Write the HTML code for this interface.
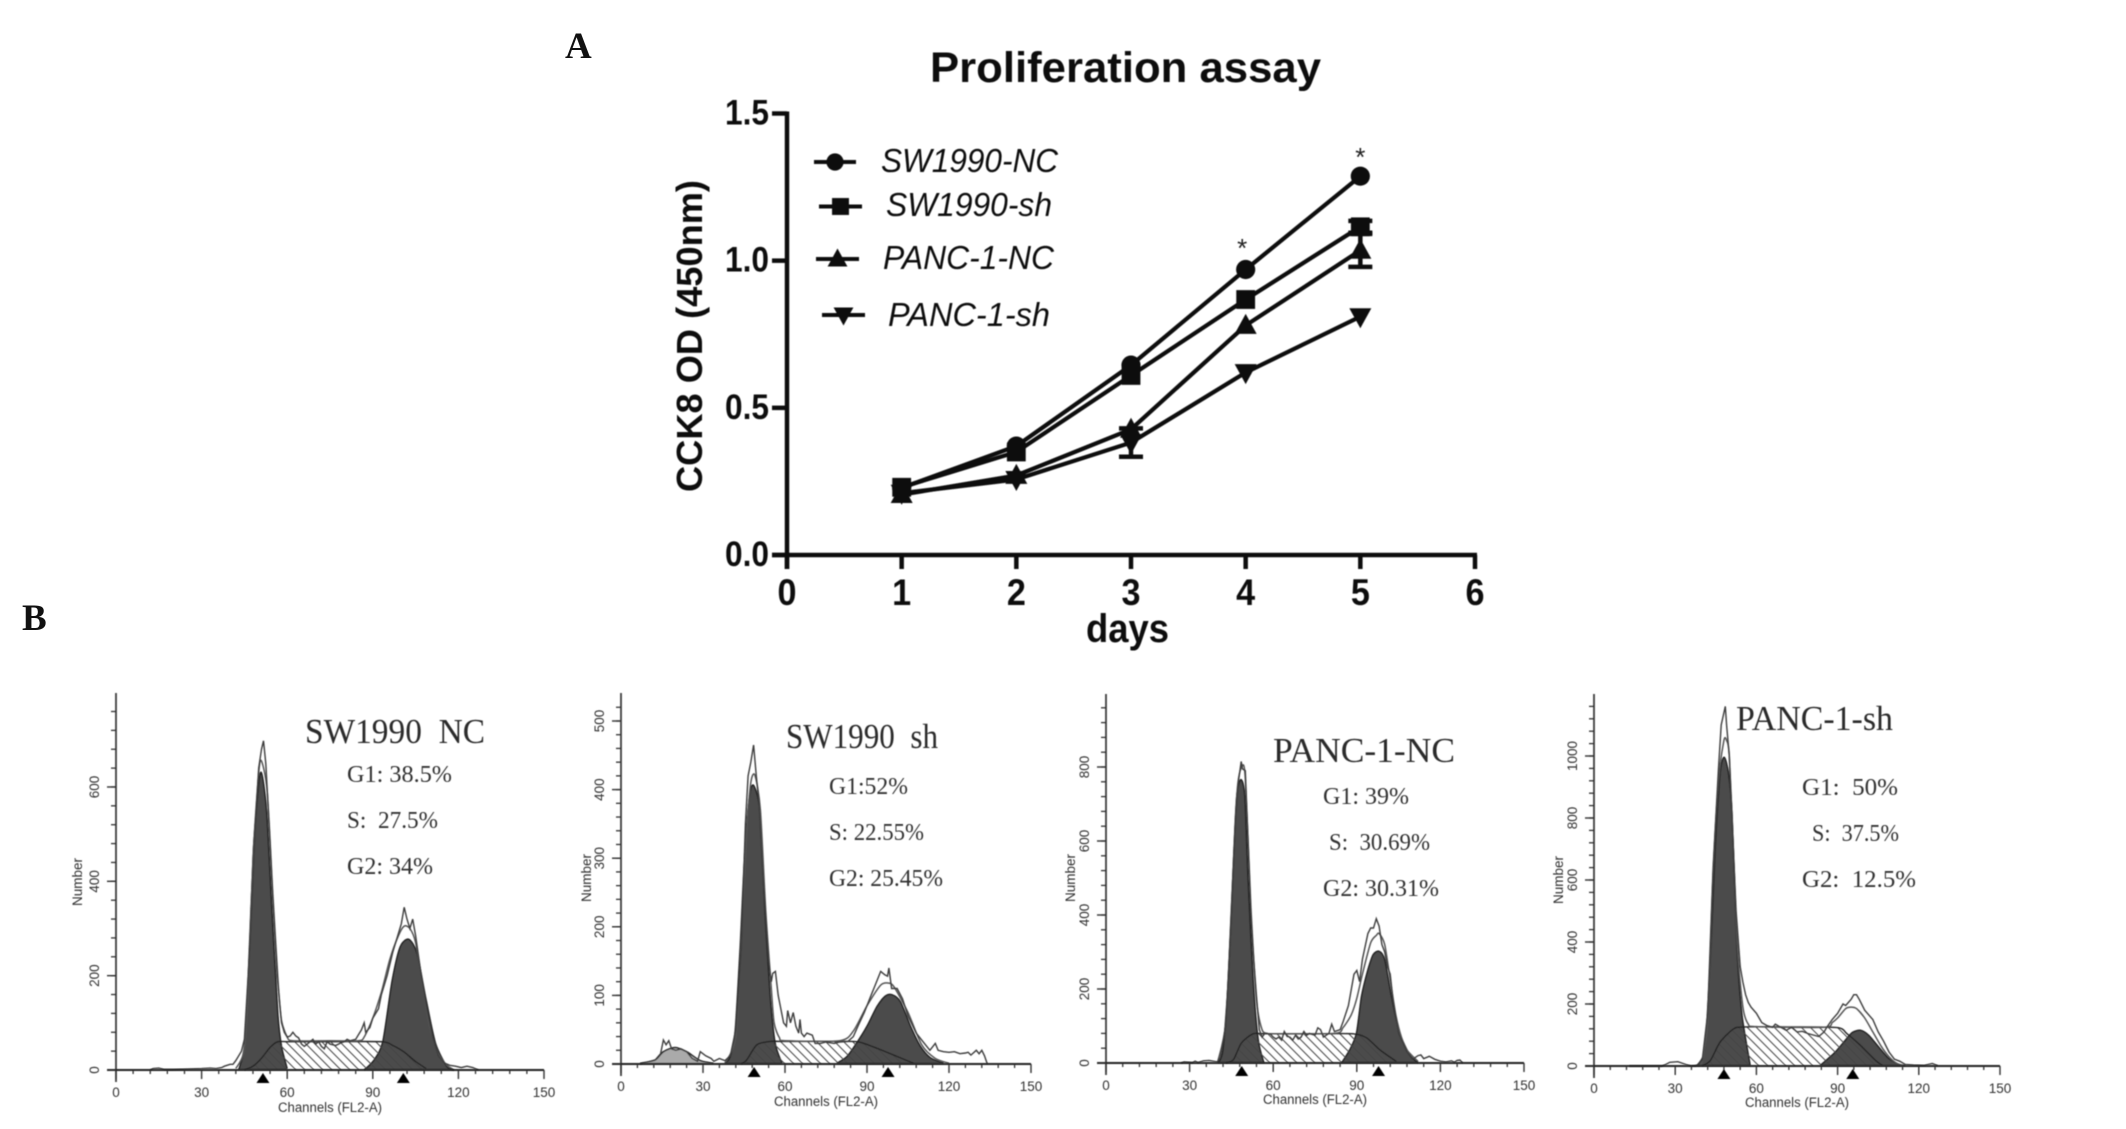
<!DOCTYPE html>
<html lang="en">
<head>
<meta charset="utf-8">
<title>Proliferation assay and cell cycle histograms</title>
<style>
html,body{margin:0;padding:0;background:#fff;}
#figure{display:block;width:2126px;height:1129px;background:#fff;}
.sans{font-family:"Liberation Sans",sans-serif;}
.serif{font-family:"Liberation Serif","Noto Serif CJK SC",serif;}
.ann{font-family:"Liberation Serif","Noto Serif CJK SC",serif;fill:#333;font-size:24px;}
.ttl{font-family:"Liberation Serif",serif;fill:#2a2a2a;font-size:35px;}
.leg{font-family:"Liberation Sans",sans-serif;font-style:italic;font-size:33px;fill:#111;}
</style>
</head>
<body>
<svg id="figure" xmlns="http://www.w3.org/2000/svg" width="2126" height="1129" viewBox="0 0 2126 1129">
  <defs>
    <pattern id="hatch" patternUnits="userSpaceOnUse" width="9" height="9">
      <path d="M-1,-1 L10,10 M-10,-1 L1,10 M8,-1 L19,10" stroke="#444" stroke-width="1" fill="none"/>
    </pattern>
    <filter id="soft" x="-5%" y="-5%" width="110%" height="110%"><feGaussianBlur stdDeviation="0.45"/></filter>
  </defs>

  <text class="serif" x="565" y="58" font-size="37" font-weight="bold" fill="#111">A</text>
  <text class="serif" x="22" y="630" font-size="37" font-weight="bold" fill="#111">B</text>

  <g id="chartA" filter="url(#soft)">
    <text class="sans" x="930" y="82" font-size="43" font-weight="bold" fill="#111" textLength="391" lengthAdjust="spacingAndGlyphs">Proliferation assay</text>
    <text class="sans" transform="translate(702,492) rotate(-90)" font-size="36" font-weight="bold" fill="#111" textLength="312" lengthAdjust="spacingAndGlyphs">CCK8 OD (450nm)</text>
    <text class="sans" x="1086" y="642" font-size="40" font-weight="bold" fill="#111" textLength="83" lengthAdjust="spacingAndGlyphs">days</text>
    <text class="leg" x="881" y="172" textLength="177" lengthAdjust="spacingAndGlyphs">SW1990-NC</text>
    <text class="leg" x="886" y="216" textLength="166" lengthAdjust="spacingAndGlyphs">SW1990-sh</text>
    <text class="leg" x="883" y="269" textLength="171" lengthAdjust="spacingAndGlyphs">PANC-1-NC</text>
    <text class="leg" x="888" y="326" textLength="162" lengthAdjust="spacingAndGlyphs">PANC-1-sh</text>
  </g>

  <g id="hist1"></g>
  <g id="hist2"></g>
  <g id="hist3"></g>
  <g id="hist4"></g>

  <g filter="url(#soft)">
    <text class="ttl" x="305" y="743" textLength="180" lengthAdjust="spacingAndGlyphs" xml:space="preserve">SW1990  NC</text>
    <text class="ann" x="347" y="782" textLength="105" lengthAdjust="spacingAndGlyphs">G1: 38.5%</text>
    <text class="ann" x="347" y="828" textLength="91" lengthAdjust="spacingAndGlyphs" xml:space="preserve">S:  27.5%</text>
    <text class="ann" x="347" y="874" textLength="86" lengthAdjust="spacingAndGlyphs">G2: 34%</text>

    <text class="ttl" x="786" y="748" textLength="152" lengthAdjust="spacingAndGlyphs" xml:space="preserve">SW1990  sh</text>
    <text class="ann" x="829" y="794" textLength="79" lengthAdjust="spacingAndGlyphs">G1:52%</text>
    <text class="ann" x="829" y="840" textLength="95" lengthAdjust="spacingAndGlyphs">S: 22.55%</text>
    <text class="ann" x="829" y="886" textLength="114" lengthAdjust="spacingAndGlyphs">G2: 25.45%</text>

    <text class="ttl" x="1273" y="762" textLength="182" lengthAdjust="spacingAndGlyphs">PANC-1-NC</text>
    <text class="ann" x="1323" y="804" textLength="86" lengthAdjust="spacingAndGlyphs">G1: 39%</text>
    <text class="ann" x="1329" y="850" textLength="101" lengthAdjust="spacingAndGlyphs" xml:space="preserve">S:  30.69%</text>
    <text class="ann" x="1323" y="896" textLength="116" lengthAdjust="spacingAndGlyphs">G2: 30.31%</text>

    <text class="ttl" x="1736" y="730" textLength="157" lengthAdjust="spacingAndGlyphs">PANC-1-sh</text>
    <text class="ann" x="1802" y="795" textLength="96" lengthAdjust="spacingAndGlyphs" xml:space="preserve">G1:  50%</text>
    <text class="ann" x="1812" y="841" textLength="87" lengthAdjust="spacingAndGlyphs" xml:space="preserve">S:  37.5%</text>
    <text class="ann" x="1802" y="887" textLength="114" lengthAdjust="spacingAndGlyphs" xml:space="preserve">G2:  12.5%</text>
  </g>
</svg>

<script>
// ---------- Chart A data ----------
const days = [1, 2, 3, 4, 5];
const xTickLabelsA = [0, 1, 2, 3, 4, 5, 6];
const yTickLabelsA = ["0.0", "0.5", "1.0", "1.5"];
const yTickValuesA = [0, 0.5, 1.0, 1.5];
const sw1990Nc = [0.228, 0.37, 0.645, 0.97, 1.287];
const sw1990Sh = [0.23, 0.35, 0.61, 0.868, 1.115];
const panc1Nc = [0.205, 0.27, 0.427, 0.78, 1.035];
const panc1Sh = [0.21, 0.257, 0.382, 0.62, 0.81];
const sw1990NcErr = [0, 0, 0, 0, 0];
const sw1990ShErr = [0, 0, 0, 0, 0.02];
const panc1NcErr = [0, 0, 0, 0, 0.056];
const panc1ShErr = [0, 0, 0.048, 0, 0];
const starDays = [3.97, 5];
const starValues = [1.06, 1.37];

// ---------- Histogram data (channel, count) ----------
const p1G1Ch = [43,45,46.3,48.2,50.2,51.2,52.8,54.7,56.7,58,60];
const p1G1N  = [0,50,190,470,615,625,545,330,120,50,3];
const p1SCh  = [45,48,51,54,56.7,60,75,93,97,101,105,108.7];
const p1SN   = [0,8,25,48,60,60,60,60,52,38,18,3];
const p1G2Ch = [87,90.3,93.5,96.8,99.6,102.6,105.5,108.7,112,116,118.5];
const p1G2N  = [0,20,60,190,261,277,247,148,56,7,0];
const p1FitCh = [42,45,46.5,48,50,51,53,55,57,58,60,62,75,85,87,90,93,96,99,101,103,105,108,110,113,116,118];
const p1FitN  = [3,45,200,450,630,655,590,370,170,105,70,62,62,62,70,110,165,235,285,305,300,270,160,90,35,10,2];
const p1RawCh = [12,13,15,17,20,25,30,33,35,37,38,40,41,42,43,44,45,47,49,50,51,51.7,52.5,54,55,56.5,58,59,60,61,62,63,64,65,66,67,69,70,71,72,73,74,75,77,79,80,81,82,84,85,86,87,87.5,89,90,91,92,93,95,97,99,100,101,102,103,104,105,107,109,111,113,115,117,119,121,123,125,127];
const p1RawN  = [0,3,4,1,1,2,3,4,3,5,8,12,12,20,30,40,65,270,540,640,680,698,650,480,360,200,100,80,70,72,80,72,68,55,50,55,65,55,60,50,45,60,55,52,58,60,65,62,65,75,85,100,80,90,110,120,130,160,200,250,290,310,345,320,300,320,285,200,130,70,30,15,10,8,5,8,5,0];

const p2HumpCh = [7,12.5,15.5,19.8,24,29,33.8];
const p2HumpN  = [1,6,18,24,18,5,1];
const p2G1Ch = [38,40,41.8,43.6,45.4,47.2,48.7,50.9,52.7,54.6,56.4,58.9];
const p2G1N  = [1,11,50,171,317,395,405,365,220,98,30,1];
const p2SCh  = [44,46,49.7,54.6,58.2,70,85,88.9,94.9,101,107];
const p2SN   = [0,6,28,33,33,33,33,30,21,11,1];
const p2G2Ch = [79,82.7,86.3,90,93.7,96.7,99.1,102.2,105.9,109.5,113.2,118];
const p2G2N  = [1,11,31,55,84,99,101,91,55,26,9,1];
const p2FitCh = [38,42,44,46,47.5,49,51,53,55,56,58,60,80,85,90,95,98,100,105,110,115,120];
const p2FitN  = [1,40,180,340,410,421,370,220,110,60,38,34,34,48,85,115,118,112,75,28,8,1];
const p2RawCh = [7,12.5,14.5,15.5,16.5,17.5,18.5,20,22,24,26,28,29,31,33,34,36,38,40,42,44,45.5,46.5,47.5,48.5,49.5,50.5,52,54,55,55.5,56.5,57.5,58.5,59.5,60.5,61,62,63,64,65,65.5,66,67,68,70,71,73,75,78,80,83,85,87,89,91,93,95,96.5,97.5,98,99,101,103,105,108,111,113,115,116,118,120,122,124,126,127,128,130,131,132,133,134];
const p2RawN  = [0,6,15,35,28,34,22,20,22,18,8,4,18,12,8,4,8,5,12,50,170,350,420,440,465,420,380,270,150,120,132,135,100,80,60,55,78,60,75,55,45,65,45,40,45,42,30,30,32,30,32,33,40,58,75,95,115,135,130,128,140,110,110,95,70,45,30,20,30,20,18,17,18,15,16,17,13,20,15,20,12,0];

const p3G1Ch = [40.3,42,43.9,45.7,46.9,48.4,49.8,51,52.8,54.6,56.7];
const p3G1N  = [0,36,225,540,720,766,720,495,225,63,0];
const p3SCh  = [43,45.7,48.6,52.8,57.6,75,88.7,93.5,98.2,104.2];
const p3SN   = [0,9,54,79,79,79,79,68,36,4];
const p3G2Ch = [84.5,87.5,89.9,91.7,94,95.9,98,100,102.4,105.4,109,112];
const p3G2N  = [0,36,81,180,252,293,302,279,180,81,22,0];
const p3FitCh = [40,43,45,47,48.7,50,52,54,56,58,60,82,85,88,90,92,95,97,98,100,102,104,106,108,112];
const p3FitN  = [1,110,420,730,800,770,420,170,90,80,79,80,95,130,175,240,325,345,350,320,225,130,70,35,4];
const p3RawCh = [27,28,31,32,33,35,37,40,41,43,45,46.5,47.5,48.5,49,50,51,52,53,54,55,56,57,59,60,61,62,63,64,65,66,67,68,69,70,71,72,73,75,76,77,78,79,80,81,82,84,85,87,89,90,91,92,94,95,96,97,98,99,100,101,102,103,105,108,110,112,113,114,116,118,120,122,124,125,126,127,128];
const p3RawN  = [0,3,1,5,1,6,7,3,15,100,400,660,760,815,795,790,600,400,280,180,90,70,80,78,70,65,70,62,85,72,70,62,75,65,70,85,75,80,75,95,90,70,75,80,105,85,90,110,155,240,250,220,280,350,365,365,390,370,320,300,260,240,170,80,30,10,20,22,12,18,10,5,3,6,2,7,8,0];

const p4G1Ch = [37,38.6,41,42.9,44.8,46.6,48.1,49.7,51,52.8,54.6,57.7];
const p4G1N  = [0,7,61,330,707,944,996,944,815,384,169,2];
const p4SCh  = [40,43,46.6,51.6,55.9,72,89.8,93.5,98.4,104,106.5];
const p4SN   = [0,18,77,120,126,126,124,104,67,18,2];
const p4G2Ch = [83.6,88.6,92.3,95.3,98.4,101.5,105.2,108.9,113.2];
const p4G2N  = [2,40,77,107,115,99,61,24,2];
const p4FitCh = [38,40,42,44,46,48,49,50,51.5,53,55,57,60,85,88,90,93,95,97,100,103,106,109,112,115];
const p4FitN  = [1,15,150,620,920,1050,1050,1000,700,380,190,135,127,125,140,155,185,190,185,155,110,65,30,8,1];
const p4RawCh = [13,25,26,28,31,34,36,38,40,42,44,46,47,48.5,49,50,51,52.5,54,55,56,57,58,60,62,64,66,67,69,71,73,75,77,79,81,83,85,86,88,90,92,93,95,96,97,98,100,102,103,105,107,109,111,113,115,118,122,125,127];
const p4RawN  = [0,0,3,12,14,5,0,2,20,170,640,960,1100,1160,1100,1000,800,500,320,270,230,205,190,170,140,130,125,135,125,115,125,110,112,105,100,95,110,125,150,170,200,195,215,230,230,215,180,160,150,110,80,45,22,15,5,3,2,8,1];

const p1Markers = [51.5, 100.7];
const p2Markers = [48.7, 97.7];
const p3Markers = [48.7, 97.8];
const p4Markers = [48, 95.6];
const channelTicks = [0, 30, 60, 90, 120, 150];
const p1CountTicks = [0, 200, 400, 600];
const p2CountTicks = [0, 100, 200, 300, 400, 500];
const p3CountTicks = [0, 200, 400, 600, 800];
const p4CountTicks = [0, 200, 400, 600, 800, 1000];

// ---------- helpers ----------
const NS = 'http://www.w3.org/2000/svg';
function mk(parent, tag, attrs, name, interact) {
  const el = document.createElementNS(NS, tag);
  for (const k in attrs) el.setAttribute(k, attrs[k]);
  
  
  parent.appendChild(el);
  return el;
}
function label(parent, x, y, str, attrs, name) {
  const el = mk(parent, 'text', attrs, name, false);
  el.setAttribute('x', x);
  el.setAttribute('y', y);
  el.textContent = str;
  return el;
}
function linePath(pts) {
  return pts.map((p, i) => (i ? 'L' : 'M') + p[0].toFixed(1) + ',' + p[1].toFixed(1)).join(' ');
}
function smoothPath(pts) {
  let d = 'M' + pts[0][0].toFixed(1) + ',' + pts[0][1].toFixed(1);
  const t = 0.13;
  for (let i = 0; i < pts.length - 1; i++) {
    const p0 = pts[Math.max(0, i - 1)], p1 = pts[i], p2 = pts[i + 1], p3 = pts[Math.min(pts.length - 1, i + 2)];
    const c1x = p1[0] + (p2[0] - p0[0]) * t, c1y = p1[1] + (p2[1] - p0[1]) * t;
    const c2x = p2[0] - (p3[0] - p1[0]) * t, c2y = p2[1] - (p3[1] - p1[1]) * t;
    d += ' C' + c1x.toFixed(1) + ',' + c1y.toFixed(1) + ' ' + c2x.toFixed(1) + ',' + c2y.toFixed(1) + ' ' + p2[0].toFixed(1) + ',' + p2[1].toFixed(1);
  }
  return d;
}

// ---------- Chart A ----------
const chartA = document.getElementById('chartA');
const AX0 = 787, AX6 = 1475, AY0 = 555, AY15 = 113.5;
function xA(d) { return AX0 + d * (AX6 - AX0) / 6; }
function yA(v) { return AY0 - v * (AY0 - AY15) / 1.5; }

mk(chartA, 'line', {x1: AX0, y1: AY15 - 2, x2: AX0, y2: AY0 + 14, stroke: '#111', 'stroke-width': 4.5}, 'y-axis-line', false);
mk(chartA, 'line', {x1: AX0 - 15, y1: AY0, x2: AX6 + 2, y2: AY0, stroke: '#111', 'stroke-width': 4.5}, 'x-axis-line', false);
yTickValuesA.forEach((v, i) => {
  mk(chartA, 'line', {x1: AX0 - 15, y1: yA(v), x2: AX0, y2: yA(v), stroke: '#111', 'stroke-width': 4.5}, 'y-tick', false);
  label(chartA, 769, yA(v) + 11, yTickLabelsA[i], {'font-size': 35, 'font-weight': 'bold', 'font-family': '"Liberation Sans",sans-serif', fill: '#111', 'text-anchor': 'end', textLength: 44, lengthAdjust: 'spacingAndGlyphs'}, 'y-tick-label');
});
xTickLabelsA.forEach(d => {
  mk(chartA, 'line', {x1: xA(d), y1: AY0, x2: xA(d), y2: AY0 + 14, stroke: '#111', 'stroke-width': 4.5}, 'x-tick', false);
  label(chartA, xA(d), 605, String(d), {'font-size': 37, 'font-weight': 'bold', 'font-family': '"Liberation Sans",sans-serif', fill: '#111', 'text-anchor': 'middle', textLength: 19, lengthAdjust: 'spacingAndGlyphs'}, 'x-tick-label');
});

function marker(parent, kind, cx, cy, s, name) {
  if (kind === 'circle') {
    mk(parent, 'circle', {cx: cx, cy: cy, r: s * 0.48, fill: '#111'}, name, false);
  } else if (kind === 'square') {
    mk(parent, 'rect', {x: cx - s * 0.47, y: cy - s * 0.47, width: s * 0.94, height: s * 0.94, fill: '#111'}, name, false);
  } else if (kind === 'up') {
    mk(parent, 'polygon', {points: cx + ',' + (cy - s * 0.58) + ' ' + (cx + s * 0.55) + ',' + (cy + s * 0.42) + ' ' + (cx - s * 0.55) + ',' + (cy + s * 0.42), fill: '#111'}, name, false);
  } else {
    mk(parent, 'polygon', {points: cx + ',' + (cy + s * 0.58) + ' ' + (cx + s * 0.55) + ',' + (cy - s * 0.42) + ' ' + (cx - s * 0.55) + ',' + (cy - s * 0.42), fill: '#111'}, name, false);
  }
}

function drawSeries(values, errs, kind, name) {
  const g = mk(chartA, 'g', {}, 'series-' + name, false);
  const pts = values.map((v, i) => [xA(days[i]), yA(v)]);
  mk(g, 'path', {d: linePath(pts), fill: 'none', stroke: '#111', 'stroke-width': 4.2}, 'line-' + name, false);
  values.forEach((v, i) => {
    if (errs[i] > 0) {
      const x = xA(days[i]);
      mk(g, 'line', {x1: x, y1: yA(v - errs[i]), x2: x, y2: yA(v + errs[i]), stroke: '#111', 'stroke-width': 4.5}, 'error-bar-' + name, false);
      mk(g, 'line', {x1: x - 12, y1: yA(v - errs[i]), x2: x + 12, y2: yA(v - errs[i]), stroke: '#111', 'stroke-width': 4.5}, 'error-cap-' + name, false);
      mk(g, 'line', {x1: x - 12, y1: yA(v + errs[i]), x2: x + 12, y2: yA(v + errs[i]), stroke: '#111', 'stroke-width': 4.5}, 'error-cap-' + name, false);
    }
    marker(g, kind, xA(days[i]), yA(v), 20, 'point-' + name);
  });
}
drawSeries(sw1990Nc, sw1990NcErr, 'circle', 'sw1990-nc');
drawSeries(sw1990Sh, sw1990ShErr, 'square', 'sw1990-sh');
drawSeries(panc1Nc, panc1NcErr, 'up', 'panc-1-nc');
drawSeries(panc1Sh, panc1ShErr, 'down', 'panc-1-sh');

starDays.forEach((d, i) => {
  label(chartA, xA(d), yA(starValues[i]) + 14, '*', {'font-size': 26, 'font-family': '"Liberation Sans",sans-serif', fill: '#222', 'text-anchor': 'middle'}, 'significance-star');
});

function legendKey(x1, x2, y, kind, name) {
  mk(chartA, 'line', {x1: x1, y1: y, x2: x2, y2: y, stroke: '#111', 'stroke-width': 4}, 'legend-line-' + name, false);
  marker(chartA, kind, (x1 + x2) / 2, y, 18, 'legend-marker-' + name);
}
legendKey(814, 856, 162, 'circle', 'sw1990-nc');
legendKey(819, 862, 206.5, 'square', 'sw1990-sh');
legendKey(816, 859, 259, 'up', 'panc-1-nc');
legendKey(822, 865, 315, 'down', 'panc-1-sh');

// ---------- Histograms ----------
function zip(ch, n, X, Y) { return ch.map((c, i) => [X(c), Y(n[i])]); }

function drawHist(cfg) {
  const root = document.getElementById(cfg.id);
  const X = c => cfg.x0 + c * (cfg.x150 - cfg.x0) / 150;
  const Y = n => cfg.y0 - n * cfg.pxPerCount;
  const g = mk(root, 'g', {filter: 'url(#soft)'}, 'histogram-plot', false);
  const base = cfg.y0;

  function area(ch, n, fill, nm) {
    const pts = zip(ch, n, X, Y);
    const d = smoothPath(pts) + ' L' + pts[pts.length - 1][0].toFixed(1) + ',' + base + ' L' + pts[0][0].toFixed(1) + ',' + base + ' Z';
    mk(g, 'path', {d: d, fill: fill, stroke: 'none'}, nm + '-fill', false);
    mk(g, 'path', {d: smoothPath(pts), fill: 'none', stroke: '#222', 'stroke-width': 1.5}, nm + '-outline', false);
  }
  if (cfg.hump) area(cfg.hump[0], cfg.hump[1], '#aaaaaa', 'debris-peak');
  area(cfg.g1[0], cfg.g1[1], '#4b4b4b', 'g1-peak');
  area(cfg.g2[0], cfg.g2[1], '#4b4b4b', 'g2-peak');
  const sPts = zip(cfg.s[0], cfg.s[1], X, Y);
  const sD = smoothPath(sPts) + ' L' + sPts[sPts.length - 1][0].toFixed(1) + ',' + base + ' L' + sPts[0][0].toFixed(1) + ',' + base + ' Z';
  mk(g, 'path', {d: sD, fill: 'url(#hatch)', stroke: 'none'}, 's-phase-hatch', false);
  mk(g, 'path', {d: smoothPath(sPts), fill: 'none', stroke: '#222', 'stroke-width': 1.4}, 's-phase-outline', false);
  mk(g, 'path', {d: smoothPath(zip(cfg.fit[0], cfg.fit[1], X, Y)), fill: 'none', stroke: '#555', 'stroke-width': 1.5}, 'fit-line', false);
  mk(g, 'path', {d: linePath(zip(cfg.raw[0], cfg.raw[1], X, Y)), fill: 'none', stroke: '#3c3c3c', 'stroke-width': 1.4}, 'raw-histogram-line', false);

  // axes
  const ax = mk(root, 'g', {filter: 'url(#soft)'}, 'histogram-axes', false);
  mk(ax, 'line', {x1: cfg.x0, y1: cfg.top, x2: cfg.x0, y2: base + 12, stroke: '#333', 'stroke-width': 1.7}, 'y-axis-line', false);
  mk(ax, 'line', {x1: cfg.x0 - 9, y1: base, x2: cfg.x150, y2: base, stroke: '#222', 'stroke-width': 2}, 'x-axis-line', false);
  for (let c = 6; c < 150; c += 6) {
    if (c % 30 === 0) continue;
    mk(ax, 'line', {x1: X(c), y1: base, x2: X(c), y2: base + 4, stroke: '#333', 'stroke-width': 1.3}, 'x-minor-tick', false);
  }
  channelTicks.forEach(c => {
    mk(ax, 'line', {x1: X(c), y1: base, x2: X(c), y2: base + 9, stroke: '#333', 'stroke-width': 1.4}, 'x-major-tick', false);
    label(ax, X(c), cfg.xLabelY, String(c), {'font-size': 13.5, 'font-family': '"Liberation Sans",sans-serif', fill: '#333', 'text-anchor': 'middle'}, 'x-tick-label');
  });
  const majorStep = cfg.yTicks[1] - cfg.yTicks[0];
  const minorStep = majorStep / 5;
  for (let i = 1; Y(i * minorStep) > cfg.top + 3; i++) {
    mk(ax, 'line', {x1: cfg.x0 - 5, y1: Y(i * minorStep), x2: cfg.x0, y2: Y(i * minorStep), stroke: '#333', 'stroke-width': 1.3}, 'y-minor-tick', false);
  }
  cfg.yTicks.forEach(v => {
    mk(ax, 'line', {x1: cfg.x0 - 9, y1: Y(v), x2: cfg.x0, y2: Y(v), stroke: '#333', 'stroke-width': 1.4}, 'y-major-tick', false);
    const lx = cfg.x0 - 17, ly = Y(v);
    label(ax, 0, 0, String(v), {transform: 'translate(' + lx + ',' + ly + ') rotate(-90)', 'font-size': 13.5, 'font-family': '"Liberation Sans",sans-serif', fill: '#333', 'text-anchor': 'middle'}, 'y-tick-label');
  });
  label(ax, 0, 0, 'Number', {transform: 'translate(' + (cfg.x0 - cfg.numOff) + ',' + cfg.numY + ') rotate(-90)', 'font-size': 13.5, 'font-family': '"Liberation Sans",sans-serif', fill: '#333', 'text-anchor': 'middle'}, 'y-axis-title');
  label(ax, cfg.chX, cfg.chY, 'Channels (FL2-A)', {'font-size': 13.5, 'font-family': '"Liberation Sans",sans-serif', fill: '#333', 'text-anchor': 'middle', textLength: 104, lengthAdjust: 'spacingAndGlyphs'}, 'x-axis-title');
  cfg.markers.forEach(c => {
    const x = X(c);
    mk(ax, 'polygon', {points: x + ',' + (base + 3) + ' ' + (x + 6.5) + ',' + (base + 13) + ' ' + (x - 6.5) + ',' + (base + 13), fill: '#000'}, 'peak-marker', false);
  });
}

drawHist({id: 'hist1', x0: 116, x150: 544, y0: 1070, pxPerCount: 0.4717, top: 693, yTicks: p1CountTicks, markers: p1Markers, xLabelY: 1097, numOff: 34, numY: 882, chX: 330, chY: 1112,
  g1: [p1G1Ch, p1G1N], s: [p1SCh, p1SN], g2: [p1G2Ch, p1G2N], fit: [p1FitCh, p1FitN], raw: [p1RawCh, p1RawN]});
drawHist({id: 'hist2', x0: 621, x150: 1031, y0: 1064, pxPerCount: 0.686, top: 693, yTicks: p2CountTicks, markers: p2Markers, xLabelY: 1091, numOff: 30, numY: 878, chX: 826, chY: 1106,
  hump: [p2HumpCh, p2HumpN], g1: [p2G1Ch, p2G1N], s: [p2SCh, p2SN], g2: [p2G2Ch, p2G2N], fit: [p2FitCh, p2FitN], raw: [p2RawCh, p2RawN]});
drawHist({id: 'hist3', x0: 1106, x150: 1524, y0: 1063, pxPerCount: 0.37, top: 694, yTicks: p3CountTicks, markers: p3Markers, xLabelY: 1090, numOff: 31, numY: 878, chX: 1315, chY: 1104,
  g1: [p3G1Ch, p3G1N], s: [p3SCh, p3SN], g2: [p3G2Ch, p3G2N], fit: [p3FitCh, p3FitN], raw: [p3RawCh, p3RawN]});
drawHist({id: 'hist4', x0: 1594, x150: 2000, y0: 1066, pxPerCount: 0.31, top: 694, yTicks: p4CountTicks, markers: p4Markers, xLabelY: 1093, numOff: 31, numY: 880, chX: 1797, chY: 1107,
  g1: [p4G1Ch, p4G1N], s: [p4SCh, p4SN], g2: [p4G2Ch, p4G2N], fit: [p4FitCh, p4FitN], raw: [p4RawCh, p4RawN]});
</script>
</body>
</html>
